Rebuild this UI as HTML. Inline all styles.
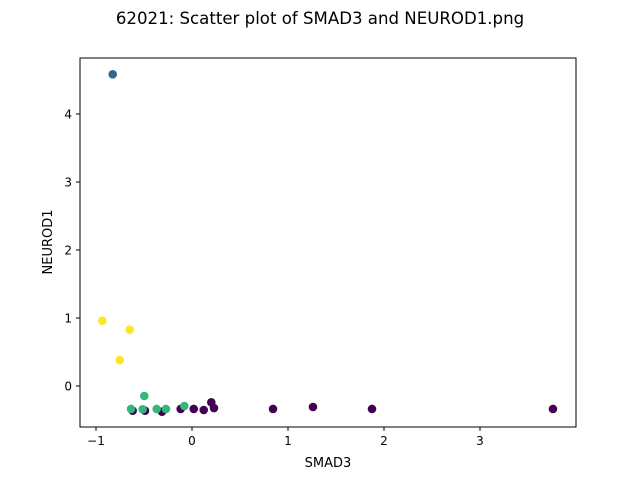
<!DOCTYPE html>
<html><head><meta charset="utf-8"><style>
body{margin:0;background:#fff;font-family:"DejaVu Sans","Liberation Sans",sans-serif}
</style></head><body>
<svg id="c" width="640" height="480" xmlns="http://www.w3.org/2000/svg">
<text x="320" y="24" font-size="16.6" text-anchor="middle">62021: Scatter plot of SMAD3 and NEUROD1.png</text>
<g id="pts"></g>
<rect x="80" y="58" width="496" height="369" fill="none" stroke="#000" stroke-width="1"/>
<g id="ax" font-size="12"></g>
<text x="328" y="467" font-size="13" text-anchor="middle">SMAD3</text>
<text x="52" y="242" font-size="13" text-anchor="middle" transform="rotate(-90 52 242)">NEUROD1</text>
</svg>
<script>
const xTicks=[-1,0,1,2,3];
const yTicks=[0,1,2,3,4];
const xVals=[-0.618,-0.490,-0.3125,-0.118,0.018,0.122,0.201,0.229,0.844,1.260,1.875,3.76,-0.826,-0.934,-0.649,-0.753,-0.497,-0.635,-0.514,-0.368,-0.271,-0.080];
const yVals=[-0.363,-0.363,-0.378,-0.338,-0.338,-0.353,-0.240,-0.324,-0.338,-0.309,-0.338,-0.338,4.584,0.960,0.828,0.382,-0.147,-0.338,-0.343,-0.338,-0.338,-0.294];
const groups=[0,0,0,0,0,0,0,0,0,0,0,0,1,3,3,3,2,2,2,2,2,2];
const colors=["#440154","#31688e","#35b779","#fde725"];
const sx=v=>192+v*96, sy=v=>386-v*68;
const NS="http://www.w3.org/2000/svg";
const pts=document.getElementById('pts'), ax=document.getElementById('ax');
const fmt=t=>String(t).replace('-','\u2212');
xVals.forEach((v,i)=>{const c=document.createElementNS(NS,'circle');
c.setAttribute('cx',sx(v));c.setAttribute('cy',sy(yVals[i]));c.setAttribute('r',4.3);c.setAttribute('fill',colors[groups[i]]);


pts.appendChild(c);});
xTicks.forEach(t=>{const x=sx(t);
const l=document.createElementNS(NS,'line');l.setAttribute('x1',x);l.setAttribute('x2',x);l.setAttribute('y1',427);l.setAttribute('y2',431);l.setAttribute('stroke','#000');


ax.appendChild(l);
const tx=document.createElementNS(NS,'text');tx.setAttribute('x',x);tx.setAttribute('y',445);tx.setAttribute('text-anchor','middle');tx.textContent=fmt(t);


ax.appendChild(tx);});
yTicks.forEach(t=>{const y=sy(t);
const l=document.createElementNS(NS,'line');l.setAttribute('x1',76);l.setAttribute('x2',80);l.setAttribute('y1',y);l.setAttribute('y2',y);l.setAttribute('stroke','#000');


ax.appendChild(l);
const tx=document.createElementNS(NS,'text');tx.setAttribute('x',72);tx.setAttribute('y',y+4.5);tx.setAttribute('text-anchor','end');tx.textContent=fmt(t);


ax.appendChild(tx);});
</script>
</body></html>
